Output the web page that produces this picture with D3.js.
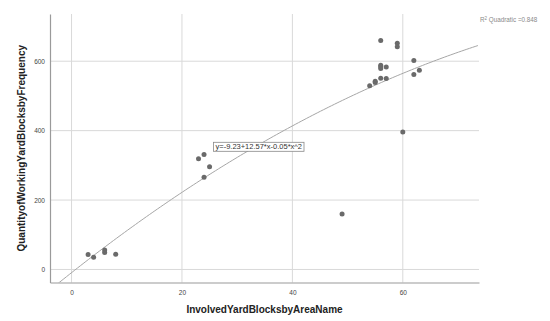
<!DOCTYPE html>
<html>
<head>
<meta charset="utf-8">
<script src="https://cdn.jsdelivr.net/npm/d3@7"></script>
<style>
  body { margin: 0; background: #fff; }
  svg { display: block; font-family: "Liberation Sans", Arial, sans-serif; }
</style>
</head>
<body>
<div id="chart"></div>
<script>
// data
const xValues = [3, 4, 6, 6, 8, 23, 24, 25, 24, 49, 54, 55, 55, 56, 56, 56, 56, 56, 57, 57, 59, 59, 60, 62, 62, 63];
const yValues = [43, 35, 56, 49, 44, 319, 331, 296, 266, 160, 529, 539, 542, 660, 588, 584, 579, 551, 583, 550, 652, 642, 396, 602, 562, 574];
const xTicks = [0, 20, 40, 60];
const yTicks = [0, 200, 400, 600];
const fitCoef = [-9.23, 12.57, -0.05];   // quadratic fit shown in chart
const fitLabel = "y=-9.23+12.57*x-0.05*x^2";
const r2Label = "0.848";

const width = 550, height = 321;
const margin = {top: 14, right: 71, bottom: 38.5, left: 50};

const svg = d3.select("#chart")
  .append("svg")
  .attr("width", width)
  .attr("height", height);

const xScale = d3.scaleLinear()
  .domain([-3.9, 73.8])
  .range([margin.left, width - margin.right]);

const yScale = d3.scaleLinear()
  .domain([-37.5, 736])
  .range([height - margin.bottom, margin.top]);

svg.append("clipPath").attr("id", "plot")
  .append("rect")
  .attr("x", margin.left).attr("y", margin.top)
  .attr("width", width - margin.left - margin.right)
  .attr("height", height - margin.top - margin.bottom);

// gridlines
svg.append("g")
  .selectAll("line")
  .data(xTicks)
  .join("line")
  .attr("x1", d => xScale(d)).attr("x2", d => xScale(d))
  .attr("y1", margin.top).attr("y2", height - margin.bottom)
  .attr("stroke", "#d9d9d9");

svg.append("g")
  .selectAll("line")
  .data(yTicks)
  .join("line")
  .attr("x1", margin.left).attr("x2", width - margin.right)
  .attr("y1", d => yScale(d)).attr("y2", d => yScale(d))
  .attr("stroke", "#d9d9d9");

// axes
const xAxis = svg.append("g")
  .attr("transform", `translate(0,${height - margin.bottom})`)
  .call(d3.axisBottom(xScale).tickValues(xTicks).tickSize(0).tickPadding(8));
const yAxis = svg.append("g")
  .attr("transform", `translate(${margin.left},0)`)
  .call(d3.axisLeft(yScale).tickValues(yTicks).tickSize(0).tickPadding(5));

[xAxis, yAxis].forEach(a => {
  a.select(".domain").attr("stroke", "#9a9a9a").attr("stroke-width", 1.2);
  a.selectAll("text")
    .style("font-size", "6.5px")
    .style("font-family", "Liberation Sans, Arial, sans-serif")
    .attr("fill", "#444");
});

// fit curve
const curvePts = d3.range(-3.9, 73.85, 0.5).map(x => [x, fitCoef[0] + fitCoef[1] * x + fitCoef[2] * x * x]);
svg.append("path")
  .datum(curvePts)
  .attr("clip-path", "url(#plot)")
  .attr("fill", "none")
  .attr("stroke", "#a6a6a6")
  .attr("stroke-width", 1)
  .attr("d", d3.line().x(d => xScale(d[0])).y(d => yScale(d[1])));

// points
svg.append("g")
  .selectAll("circle")
  .data(xValues.map((x, i) => ({x, y: yValues[i]})))
  .join("circle")
  .attr("cx", d => xScale(d.x))
  .attr("cy", d => yScale(d.y))
  .attr("r", 2.5)
  .attr("fill", "#6a6a6a");

// equation box
const eq = svg.append("g");
const eqText = eq.append("text")
  .attr("x", 215.5).attr("y", 149.2)
  .style("font-size", "7.5px")
  .attr("fill", "#333")
  .text(fitLabel);
const bb = eqText.node().getBBox();
eq.insert("rect", "text")
  .attr("x", bb.x - 2).attr("y", 142.3)
  .attr("width", bb.width + 4).attr("height", 9)
  .attr("fill", "#fff")
  .attr("stroke", "#888")
  .attr("stroke-width", 0.8);

// R squared label
const r2 = svg.append("text")
  .attr("x", 480).attr("y", 22)
  .style("font-size", "6.3px")
  .attr("fill", "#8a8a8a");
r2.append("tspan").text("R");
r2.append("tspan").attr("dy", -2.5).style("font-size", "4.5px").text("2");
r2.append("tspan").attr("dy", 2.5).text(" Quadratic =" + r2Label);

// axis titles
svg.append("text")
  .attr("x", xScale.range()[0] / 2 + xScale.range()[1] / 2)
  .attr("y", 312.5)
  .attr("text-anchor", "middle")
  .style("font-size", "10px")
  .style("font-weight", "bold")
  .attr("fill", "#222")
  .text("InvolvedYardBlocksbyAreaName");

svg.append("text")
  .attr("transform", `translate(24.5,${(margin.top + height - margin.bottom) / 2}) rotate(-90)`)
  .attr("text-anchor", "middle")
  .style("font-size", "10px")
  .style("font-weight", "bold")
  .attr("fill", "#222")
  .text("QuantityofWorkingYardBlocksbyFrequency");
</script>
</body>
</html>
